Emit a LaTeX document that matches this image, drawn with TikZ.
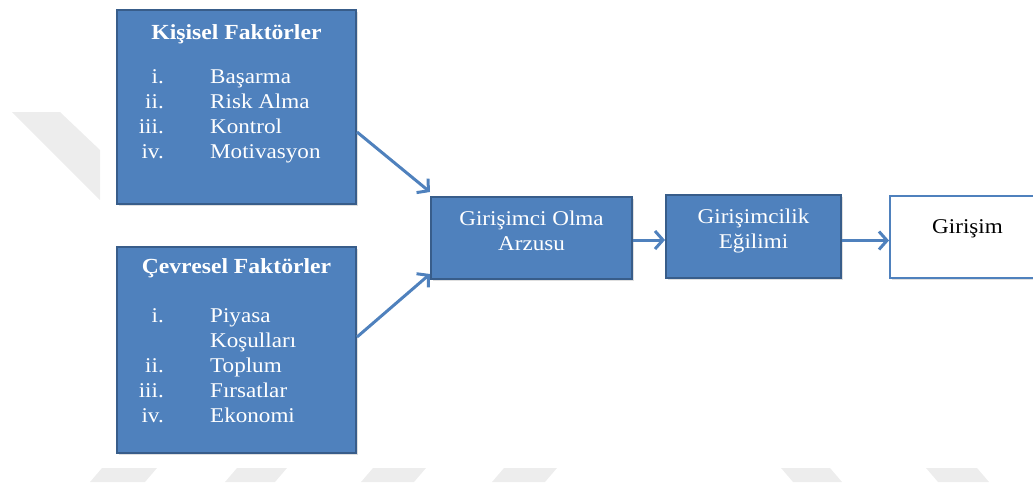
\documentclass[tikz,border=0pt]{standalone}
\usepackage{fontspec}
\setmainfont{Liberation Serif}[FakeStretch=1.1]
\usepackage{xcolor}
\usetikzlibrary{arrows.meta, shadows}
\definecolor{boxblue}{HTML}{4F81BD}
\definecolor{boxedge}{HTML}{385D8A}
\definecolor{wmgray}{HTML}{EDEDED}
\tikzset{factorbox/.style={rectangle, draw=boxedge, fill=boxblue, line width=2pt,
		inner sep=0pt, drop shadow={shadow xshift=2pt, shadow yshift=-2pt, opacity=0.25}},
	whitebox/.style={factorbox, draw=boxblue, fill=white},
	boxtext/.style={text=white, inner sep=0pt, font=\fontsize{21}{24}\selectfont},
	boxtitle/.style={boxtext, font=\fontsize{21.5}{24}\selectfont\bfseries},
	flow/.style={->, draw=boxblue, line width=3pt},
	watermark/.style={fill=wmgray, draw=none}}

\begin{document}
\begin{tikzpicture}[
			x = 1pt, y = -1pt, % pixel grid, y grows downwards
			> = {Straight Barb[length=8pt, width=18pt]}, % arrow head style
		]
		\useasboundingbox (0,0) rectangle (1033,485);
		% faint background marks
		\fill[watermark] (12,112) -- (60,112) -- (100,150) -- (100,200) -- cycle;
		\fill[watermark] (102,468) -- (157,468) -- (145,482) -- (90,482) -- cycle;
		\fill[watermark] (237,468) -- (287,468) -- (275,482) -- (225,482) -- cycle;
		\fill[watermark] (373,468) -- (426,468) -- (414,482) -- (361,482) -- cycle;
		\fill[watermark] (504,468) -- (557,468) -- (545,482) -- (492,482) -- cycle;
		\fill[watermark] (781,468) -- (830,468) -- (842,482) -- (793,482) -- cycle;
		\fill[watermark] (926,468) -- (977,468) -- (989,482) -- (938,482) -- cycle;

		\node[factorbox, minimum width=239pt, minimum height=194pt] (kisisel) at (236.5,107){};
		\node[boxtitle, anchor=base] (kisiselbaslik) at (236.5,39){Kişisel Faktörler};
		\node[boxtext, anchor=base east] (kno1) at (164,83){i.};
		\node[boxtext, anchor=base west] (k1) at (210,83){Başarma};
		\node[boxtext, anchor=base east] (kno2) at (164,108){ii.};
		\node[boxtext, anchor=base west] (k2) at (210,108){Risk Alma};
		\node[boxtext, anchor=base east] (kno3) at (164,133){iii.};
		\node[boxtext, anchor=base west] (k3) at (210,133){Kontrol};
		\node[boxtext, anchor=base east] (kno4) at (164,158){iv.};
		\node[boxtext, anchor=base west] (k4) at (210,158){Motivasyon};

		\node[factorbox, minimum width=239pt, minimum height=206pt] (cevresel) at (236.5,350){};
		\node[boxtitle, anchor=base] (cevreselbaslik) at (236.5,273){Çevresel Faktörler};
		\node[boxtext, anchor=base east] (cno1) at (164,322){i.};
		\node[boxtext, anchor=base west] (c1) at (210,322){Piyasa};
		\node[boxtext, anchor=base west] (c1b) at (210,347){Koşulları};
		\node[boxtext, anchor=base east] (cno2) at (164,372){ii.};
		\node[boxtext, anchor=base west] (c2) at (210,372){Toplum};
		\node[boxtext, anchor=base east] (cno3) at (164,397){iii.};
		\node[boxtext, anchor=base west] (c3) at (210,397){Fırsatlar};
		\node[boxtext, anchor=base east] (cno4) at (164,422){iv.};
		\node[boxtext, anchor=base west] (c4) at (210,422){Ekonomi};

		\node[factorbox, minimum width=201pt, minimum height=82pt] (arzu) at (531.5,238){};
		\node[boxtext, anchor=base] (arzu1) at (531.5,225){Girişimci Olma};
		\node[boxtext, anchor=base] (arzu2) at (531.5,250){Arzusu};

		\node[factorbox, minimum width=175pt, minimum height=83pt] (egilim) at (753.5,236.5){};
		\node[boxtext, anchor=base] (egilim1) at (753.5,223){Girişimcilik};
		\node[boxtext, anchor=base] (egilim2) at (753.5,248){Eğilimi};

		\node[whitebox, minimum width=155pt, minimum height=82pt] (girisim) at (967.5,237){};
		\node[boxtext, text=black, anchor=base] (girisim1) at (967.5,233){Girişim};

		\draw[flow] ([yshift=-25pt]kisisel.east) to ([yshift=4pt]arzu.north west);
		\draw[flow] ([yshift=13pt]cevresel.east) to ([yshift=6pt]arzu.south west);
		\draw[flow] ([yshift=-2pt]arzu.east) to ([yshift=-2pt]arzu.east -| egilim.west);
		\draw[flow] ([yshift=-4pt]egilim.east) to ([yshift=-4pt]egilim.east -| girisim.west);
		\end{tikzpicture}
\end{document}
